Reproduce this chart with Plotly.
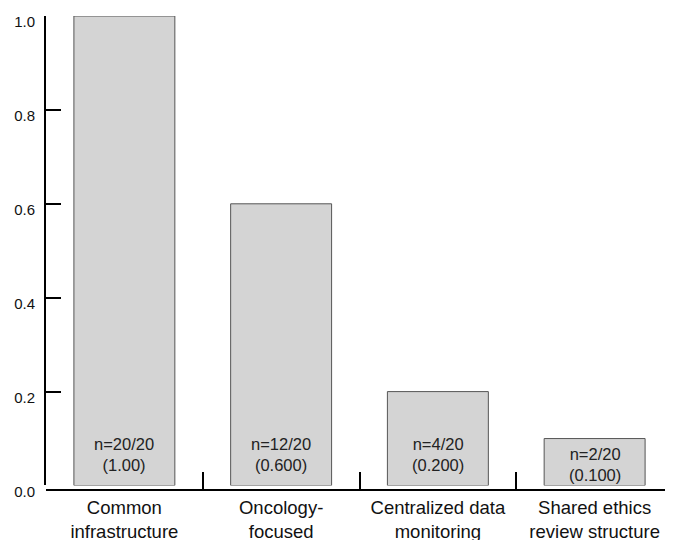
import plotly.graph_objects as go

categories = ["Common<br>infrastructure", "Oncology-<br>focused",
              "Centralized data<br>monitoring", "Shared ethics<br>review structure"]
values = [1.0, 0.6, 0.2, 0.1]
counts = [20, 12, 4, 2]
totals = [20, 20, 20, 20]
value_text = ["1.00", "0.600", "0.200", "0.100"]
y_ticks = [0.0, 0.2, 0.4, 0.6, 0.8, 1.0]
y_tick_text = ["0.0", "0.2", "0.4", "0.6", "0.8", "1.0"]

bar_text = [f"n={c}/{t}<br>({v})" for c, t, v in zip(counts, totals, value_text)]

FONT = "Liberation Sans, Arial, sans-serif"

fig = go.Figure(go.Bar(
    x=categories, y=values,
    marker=dict(color="#d4d4d4", line=dict(color="#555555", width=1)),
    hoverinfo="skip",
))

for cat, val, txt in zip(categories, values, bar_text):
    if val < 0.15:
        # short bar: label centred in the bar
        pos = dict(y=val / 2, yanchor="middle", yshift=-2)
    else:
        pos = dict(y=0, yanchor="bottom", yshift=10)
    fig.add_annotation(
        x=cat, xref="x", yref="y",
        text=txt, showarrow=False,
        font=dict(family=FONT, size=16.5, color="#222222"),
        **pos,
    )

# page body has an 8px default margin, so margins are compensated
fig.update_layout(
    width=673, height=540,
    margin=dict(l=38, r=8, t=8, b=57.5),
    paper_bgcolor="white", plot_bgcolor="white",
    bargap=0.356,
    showlegend=False,
    font=dict(family=FONT, color="#111111"),
)

fig.update_yaxes(
    range=[0, 1], domain=[0.0095, 1], automargin=False,
    tickmode="array", tickvals=y_ticks, ticktext=y_tick_text,
    ticks="inside", ticklen=15, tickwidth=2, tickcolor="black",
    showline=True, linecolor="black", linewidth=2,
    showgrid=False, zeroline=False,
    tickfont=dict(size=15, color="#111111"),
    ticklabelshift=6, ticklabelstandoff=6,
)

fig.update_xaxes(
    anchor="free", position=0, automargin=False,
    showline=True, linecolor="black", linewidth=2,
    ticks="inside", tickson="boundaries", ticklen=17, tickwidth=2, tickcolor="black",
    showgrid=False, zeroline=False,
    tickfont=dict(size=18.5, color="#111111"),
    ticklabelstandoff=1,
)

fig.write_html("out.html")
